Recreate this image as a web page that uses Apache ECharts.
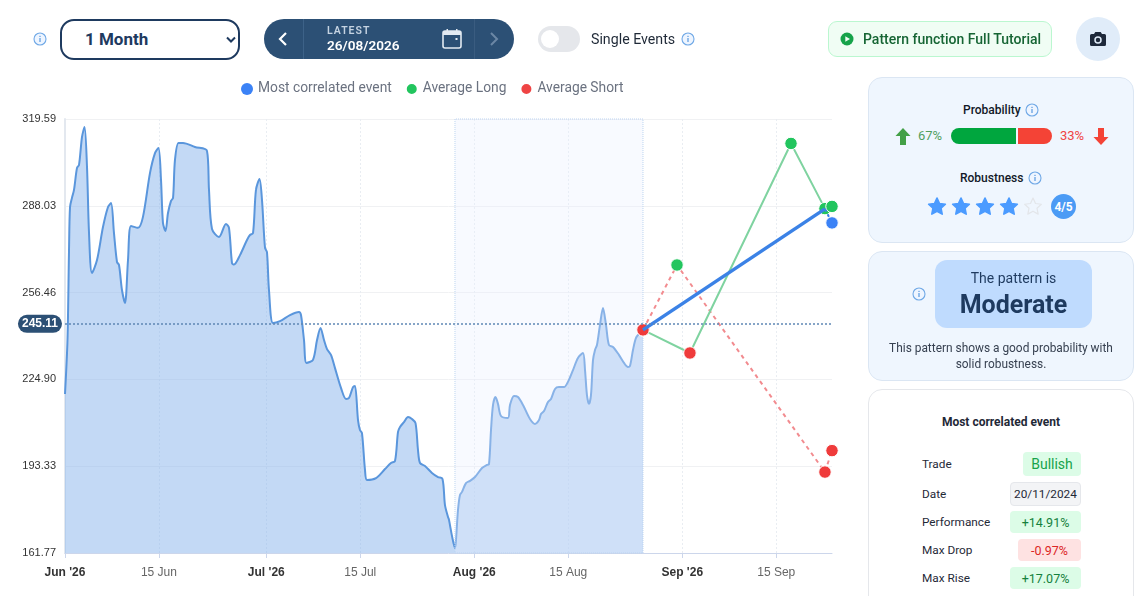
<!DOCTYPE html>
<html><head><meta charset="utf-8">
<script src="https://cdn.jsdelivr.net/npm/echarts@6/dist/echarts.min.js"></script>
<style>
html,body{margin:0;padding:0;width:1134px;height:596px;overflow:hidden;background:#fff;font-family:Roboto,sans-serif;color:#1f2937}
#chart{position:absolute;left:0;top:0;width:1134px;height:596px}
.a{position:absolute;white-space:nowrap;box-sizing:border-box}
.c{display:flex;align-items:center;justify-content:center}
.panel{position:absolute;left:868px;width:266px;box-sizing:border-box;border-radius:14px}
svg{display:block}
.badge{position:absolute;right:53px;border-radius:4px;display:flex;align-items:center;justify-content:center;font-size:12.5px;box-sizing:border-box}
.lab{position:absolute;left:922px;font-size:11.8px;line-height:14px;color:#1f2937}
</style></head><body>
<svg width="0" height="0" style="position:absolute"><defs>
<symbol id="info" viewBox="0 0 14 14"><circle cx="7" cy="7" r="6" fill="#eef5ff" stroke="#6fa8e6" stroke-width="1.1"/><rect x="6.4" y="6" width="1.2" height="4" fill="#5a9be0"/><rect x="6.4" y="3.8" width="1.2" height="1.2" fill="#5a9be0"/></symbol>
<symbol id="star" viewBox="0 0 24 24"><path stroke-linejoin="round" d="M12 2.500l3 6.500 7 .9-5.200 4.800 1.400 7L12 18.300l-6.200 3.400 1.400-7L2 9.900l7-.9z"/></symbol>
</defs></svg>
<div id="chart"></div>

<svg class="a" style="left:33px;top:32px" width="14" height="14"><use href="#info"/></svg>
<div class="a" style="left:60px;top:19px;width:180px;height:41px;border:2px solid #1e3a5f;border-radius:14px;background:#fff"></div>
<div class="a" style="left:85px;top:29px;font-size:17px;line-height:20px;font-weight:700;color:#1e3a5f">1 Month</div>
<svg class="a" style="left:226px;top:36px" width="10" height="8"><path d="M1 1.500L5 5.500l4-4" fill="none" stroke="#1e3a5f" stroke-width="2"/></svg>

<div class="a" style="left:264px;top:19px;width:250px;height:40px;border-radius:20px;background:#2c5075"></div>
<div class="a" style="left:303px;top:19px;width:1px;height:40px;background:#3d6288"></div>
<div class="a" style="left:474px;top:19px;width:1px;height:40px;background:#3a5c80"></div>
<svg class="a" style="left:278px;top:31px" width="10" height="16"><path d="M8 2L2 8l6 6" fill="none" stroke="#fff" stroke-width="2.2"/></svg>
<svg class="a" style="left:489px;top:31px" width="10" height="16"><path d="M2 2l6 6-6 6" fill="none" stroke="#6b87a5" stroke-width="2"/></svg>
<div class="a" style="left:327px;top:25px;font-size:10.5px;line-height:12px;font-weight:600;letter-spacing:1px;color:#c5d3e2">LATEST</div>
<div class="a" style="left:327px;top:37px;font-size:13.600px;line-height:16px;font-weight:600;color:#fff">26/08/2026</div>
<svg class="a" style="left:441px;top:28px" width="22" height="22"><rect x="2" y="3" width="18" height="17" rx="2" fill="none" stroke="#e3eaf2" stroke-width="1.6"/><rect x="2" y="3" width="18" height="4" fill="#e3eaf2"/><rect x="5.5" y="1" width="1.5" height="3" fill="#e3eaf2"/><rect x="15" y="1" width="1.5" height="3" fill="#e3eaf2"/><rect x="14.5" y="10" width="2" height="2" fill="#e3eaf2"/></svg>

<div class="a" style="left:538px;top:26px;width:42px;height:26px;border-radius:13px;background:#e5e7eb"></div>
<div class="a" style="left:541px;top:30px;width:18px;height:18px;border-radius:9px;background:#fff"></div>
<div class="a" style="left:591px;top:31px;font-size:14.200px;line-height:16px;color:#1f2937">Single Events</div>
<svg class="a" style="left:681px;top:32px" width="14" height="14"><use href="#info"/></svg>

<div class="a" style="left:828px;top:21px;width:224px;height:36px;border-radius:9px;background:#f0fdf4;border:1px solid #bbf7d0"></div>
<svg class="a" style="left:840px;top:32px" width="14" height="14"><circle cx="7" cy="7" r="6.5" fill="#16a34a"/><path d="M5.3 4.2L10 7l-4.7 2.8z" fill="#f0fdf4"/></svg>
<div class="a" style="left:863px;top:31px;font-size:14px;line-height:16px;font-weight:500;color:#166534">Pattern function Full Tutorial</div>
<div class="a" style="left:1076px;top:17px;width:44px;height:44px;border-radius:22px;background:#e0ecf9"></div>
<svg class="a" style="left:1089px;top:30px" width="18" height="18"><path d="M6.3 2L5 4H2.5A1.5 1.5 0 0 0 1 5.5v9A1.5 1.5 0 0 0 2.5 16h13a1.5 1.5 0 0 0 1.5-1.5v-9A1.5 1.5 0 0 0 15.500 4H13l-1.300-2z" fill="#1e293b"/><circle cx="9" cy="10" r="3" fill="none" stroke="#e0ecf9" stroke-width="1.500"/></svg>

<div class="panel" style="top:77px;height:166px;background:#eff6fe;border:1px solid #dbe6f3"></div>
<div class="a" style="left:963px;top:103px;font-size:12px;line-height:14px;font-weight:500;color:#111827">Probability</div>
<svg class="a" style="left:1025px;top:103px" width="14" height="14"><use href="#info"/></svg>
<svg class="a" style="left:895px;top:128px" width="16" height="17"><path d="M8 0l7.500 8H11v9H5V8H.5z" fill="#43a047"/></svg>
<div class="a" style="left:918px;top:128px;font-size:13px;line-height:16px;color:#4f9f5f">67%</div>
<div class="a" style="left:951px;top:128px;width:65px;height:16px;background:#00a63e;border-radius:8px 0 0 8px"></div>
<div class="a" style="left:1018px;top:128px;width:34px;height:16px;background:#f44336;border-radius:0 8px 8px 0"></div>
<div class="a" style="left:1060px;top:128px;font-size:13px;line-height:16px;color:#ef4444">33%</div>
<svg class="a" style="left:1093px;top:128px" width="16" height="17"><path d="M8 17L.5 9H5V0h6v9h4.500z" fill="#f44336"/></svg>
<div class="a" style="left:960px;top:171px;font-size:12px;line-height:14px;font-weight:500;color:#111827">Robustness</div>
<svg class="a" style="left:1028px;top:171px" width="14" height="14"><use href="#info"/></svg>
<svg class="a" style="left:927px;top:196px;fill:#4b9bff;stroke:#4b9bff;stroke-width:2" width="20" height="20"><use href="#star"/></svg>
<svg class="a" style="left:951px;top:196px;fill:#4b9bff;stroke:#4b9bff;stroke-width:2" width="20" height="20"><use href="#star"/></svg>
<svg class="a" style="left:975px;top:196px;fill:#4b9bff;stroke:#4b9bff;stroke-width:2" width="20" height="20"><use href="#star"/></svg>
<svg class="a" style="left:999px;top:196px;fill:#4b9bff;stroke:#4b9bff;stroke-width:2" width="20" height="20"><use href="#star"/></svg>
<svg class="a" style="left:1023px;top:196px;fill:none;stroke:#e3e6ea;stroke-width:1.500" width="20" height="20"><use href="#star"/></svg>
<div class="a c" style="left:1051px;top:194px;width:25px;height:25px;border-radius:13px;background:#4b9bf5;color:#fff;font-size:12px;font-weight:700">4/5</div>

<div class="panel" style="top:251px;height:130px;background:#eff6fe;border:1px solid #dbe6f3"></div>
<svg class="a" style="left:912px;top:287px" width="14" height="14"><use href="#info"/></svg>
<div class="a" style="left:935px;top:260px;width:157px;height:68px;border-radius:12px;background:#bfdbfe"></div>
<div class="a c" style="left:935px;top:270px;width:157px;height:16px;font-size:14px;color:#1e3a5f">The pattern is</div>
<div class="a c" style="left:935px;top:288px;width:157px;height:32px;font-size:25px;font-weight:700;color:#1e3a5f">Moderate</div>
<div class="a" style="left:868px;top:340px;width:266px;text-align:center;font-size:11.900px;line-height:16px;color:#374151">This pattern shows a good probability with<br>solid robustness.</div>

<div class="panel" style="top:389px;height:260px;background:#fff;border:1px solid #e5e7eb"></div>
<div class="a" style="left:868px;top:415px;width:266px;text-align:center;font-size:12px;line-height:14px;font-weight:700;color:#1f2937">Most correlated event</div>
<div class="lab" style="top:457px">Trade</div>
<div class="lab" style="top:487px">Date</div>
<div class="lab" style="top:515px">Performance</div>
<div class="lab" style="top:543px">Max Drop</div>
<div class="lab" style="top:571px">Max Rise</div>
<div class="badge" style="top:452px;width:58px;height:24px;background:#dcfce7;color:#16a34a;font-size:14px">Bullish</div>
<div class="badge" style="top:482px;width:71px;height:24px;background:#f3f4f6;border:1px solid #e5e7eb;color:#1f2937;font-size:11.800px">20/11/2024</div>
<div class="badge" style="top:511px;width:71px;height:22px;background:#dcfce7;color:#15803d">+14.91%</div>
<div class="badge" style="top:539px;width:63px;height:22px;background:#fee2e2;color:#dc2626">-0.97%</div>
<div class="badge" style="top:567px;width:71px;height:22px;background:#dcfce7;color:#15803d">+17.07%</div>

<script>
// Days since 1 Jun 2026, and price
const priceDays = [0,.37,.6,.75,1.04,1.34,1.79,2.09,2.53,2.91,3.28,3.58,4.02,4.77,5.66,6.41,6.86,7.3,7.75,8.05,8.49,8.94,9.39,9.84,10.88,11.62,12.67,13.41,13.93,14.31,14.6,14.98,15.35,15.8,16.1,16.39,16.92,17.59,19.37,21.16,21.46,21.91,22.95,23.99,24.44,24.89,25.19,26.08,27.12,27.57,28.02,28.46,28.99,29.36,29.81,30.1,30.4,31,32.04,33.53,34.87,35.17,35.62,35.99,36.96,37.56,38.08,38.6,39.05,39.64,40.24,41.13,41.88,42.32,42.92,43.22,43.67,43.96,44.26,44.71,45.01,46.35,47.69,48.58,49.18,49.63,49.93,50.52,51.12,51.71,52.24,52.61,52.91,53.65,54.69,55.59,56.26,56.63,57.08,57.23,57.68,58.12,58.27,58.57,58.87,59.17,59.76,60.36,61.1,62.15,62.89,63.19,63.49,63.79,64.16,64.53,64.98,66.02,66.32,66.92,67.51,68.26,69.3,70.04,70.64,70.94,71.39,71.98,72.43,73.03,73.62,74.37,74.96,75.71,76.45,77.2,77.5,77.79,78.09,78.39,78.69,78.99,79.28,79.73,80.18,80.63,81.07,81.67,82.56,83.31,83.9,84.2,84.65,85.1,85.69,86.14];
const prices = [219.6,239.2,272,287.6,290.9,293.8,301.8,302.9,313,316.7,302.1,278.1,263.6,268.3,280.3,287.6,289,278.1,267.6,266.5,257.4,252.7,268.3,280.7,280,284,300,307.2,309,297.4,281.8,278.9,285.4,289.8,290.9,304.7,310.9,310.9,309.4,308,293.8,279.6,276.7,281.4,280,267.2,266.7,270.1,275.6,277.4,278.1,293.8,297.8,290.1,272.7,271.2,257.4,245.4,246.1,248.3,249.4,248.3,239.2,230.9,232,239.2,243.6,239.2,235.9,233.8,229,221.8,217.8,218.1,222.1,222.5,210.1,206.5,205.4,192,188.3,189,192.3,194.5,195.2,205.8,207.6,209.4,211.2,210.5,209,199.2,194.5,193.4,190.9,189.4,188.7,179.2,174.9,173.8,167.9,163.6,166.5,177.4,182.9,184,187.2,188,189.4,192.7,193.8,194.1,206.5,215.6,218.5,216,211.6,210.9,215.6,218.9,218.5,215.6,210.5,208.7,210.1,212.3,213.4,216.7,217.8,221.4,222.1,222.1,224,228.3,232.7,234.5,228.3,219.2,216,219.2,231.9,235.6,237.4,244.7,250.9,244.7,237.4,236.7,233.8,230.9,229.4,229.8,235.6,240,241.8,242.9];
const eventDays = [86.14,113.26];
const eventValues = [242.9,286.9];
const eventTailDays = [113.26,114.31];
const eventTailValues = [286.9,281.8];
const longDays = [86.14,93.14,108.2,113.26,114.31];
const longValues = [242.9,234.5,310.7,287,287.8];
const longDotColors = ['#ef3b3b','#ef3b3b','#22c55e','#22c55e','#22c55e'];
const shortDays = [86.14,91.21,113.26,114.31];
const shortValues = [242.9,266.5,191.2,199];
const shortDotColors = ['#ef3b3b','#22c55e','#ef3b3b','#ef3b3b'];
const windowDays = [58.12,86.14];
const currentPrice = 245.11;
const yTicks = [161.77,193.33,224.90,256.46,288.03,319.59];
const xTickDays = [0,14,30,44,61,75,92,106];
const xTickLabels = ["Jun '26","15 Jun","Jul '26","15 Jul","Aug '26","15 Aug","Sep '26","15 Sep"];
const xMajor = [true,false,true,false,true,false,true,false];
const axisEnd = 114.31;

const zip = (a,b,colors) => a.map((d,i)=> colors
  ? {value:[d,b[i]], itemStyle:{color:colors[i]}}
  : [d,b[i]]);
const dot = {symbol:'circle',symbolSize:12.5};

const chart = echarts.init(document.getElementById('chart'),null,{renderer:'canvas'});
chart.setOption({
  animation:false,
  textStyle:{fontFamily:'"Liberation Sans",Arial,sans-serif'},
  grid:{left:65,right:302,top:119,bottom:43,containLabel:false},
  legend:{
    left:241,top:82,padding:0,itemWidth:12,itemHeight:12,itemGap:13,icon:'circle',
    textStyle:{fontFamily:'Roboto',fontSize:13.8,color:'#6b7280'},
    data:['Most correlated event','Average Long','Average Short']
  },
  xAxis:{
    type:'value',min:0,max:axisEnd,
    axisLine:{show:true,onZero:false,lineStyle:{color:'#ccd6eb',width:1}},
    axisTick:{show:true,length:5,lineStyle:{color:'#ccd6eb'},customValues:xTickDays},
    splitLine:{show:true,lineStyle:{color:'#e9edf2',width:1,type:[2,2]}},
    axisLabel:{
      customValues:xTickDays,margin:14,hideOverlap:false,alignMinLabel:'center',alignMaxLabel:'center',
      formatter:v=>{const i=xTickDays.indexOf(v);return xMajor[i]?`{b|${xTickLabels[i]}}`:`{n|${xTickLabels[i]}}`;},
      rich:{b:{fontWeight:'bold',fontSize:12,color:'#333'},n:{fontSize:12,color:'#666'}}
    }
  },
  yAxis:{
    type:'value',min:yTicks[0],max:yTicks[yTicks.length-1],
    axisLine:{show:true,onZero:false,lineStyle:{color:'#e3e8ef',width:2}},
    axisTick:{show:false,customValues:yTicks},
    splitLine:{show:true,lineStyle:{color:'#f0f1f3',width:1}},
    axisLabel:{customValues:yTicks,margin:9,fontSize:11,color:'#333',padding:[4,0,0,0],formatter:v=>v.toFixed(2)}
  },
  series:[
    {type:'line',name:'Price',z:2,data:zip(priceDays,prices),showSymbol:false,smooth:.3,
     lineStyle:{color:'#5a96dc',width:2},itemStyle:{color:'#5a96dc'},areaStyle:{color:'rgba(135,180,235,0.5)',opacity:1}},
    {type:'line',name:'Window',z:3,data:[],
     markArea:{silent:true,z:3,itemStyle:{color:'rgba(232,241,255,0.32)',borderColor:'#bcd4f0',borderWidth:1,borderType:'dotted'},
       data:[[{xAxis:windowDays[0]},{xAxis:windowDays[1]}]]}},
    {type:'line',name:'Average Short',z:4,clip:false,data:zip(shortDays,shortValues,shortDotColors),...dot,
     itemStyle:{color:'#ef4444',borderColor:'#fff',borderWidth:1},lineStyle:{color:'#f28b8f',width:2,type:[4,4]}},
    {type:'line',name:'Average Long',z:5,clip:false,data:zip(longDays,longValues,longDotColors),...dot,
     itemStyle:{color:'#22c55e',borderColor:'#fff',borderWidth:1},lineStyle:{color:'#7fd3a0',width:2}},
    {type:'line',name:'Most correlated event',z:6,clip:false,data:zip(eventDays,eventValues),showSymbol:false,symbol:'none',
     itemStyle:{color:'#3b82f6'},lineStyle:{color:'#3b82e6',width:3.5}},
    {type:'line',name:'Event tail',z:6,clip:false,data:zip(eventTailDays,eventTailValues).map((p,i)=>i?{value:p}:{value:p,symbol:'none'}),
     symbol:'circle',symbolSize:12.5,itemStyle:{color:'#3b82f6',borderColor:'#fff',borderWidth:1},lineStyle:{color:'#3b82e6',width:2,type:[3,3]}},
    {type:'line',name:'Current',z:7,data:[],
     markLine:{silent:true,z:7,symbol:'none',precision:2,
       lineStyle:{color:'#5f88b5',width:1.5,type:[2,2]},
       label:{position:'start',distance:3,formatter:String(currentPrice),backgroundColor:'#2c5075',borderRadius:9,padding:[3,4],
         color:'#fff',fontWeight:'bold',fontSize:12,fontFamily:'"Liberation Sans",Arial,sans-serif'},
       data:[{yAxis:currentPrice}]}}
  ]
});
</script>
</body></html>
